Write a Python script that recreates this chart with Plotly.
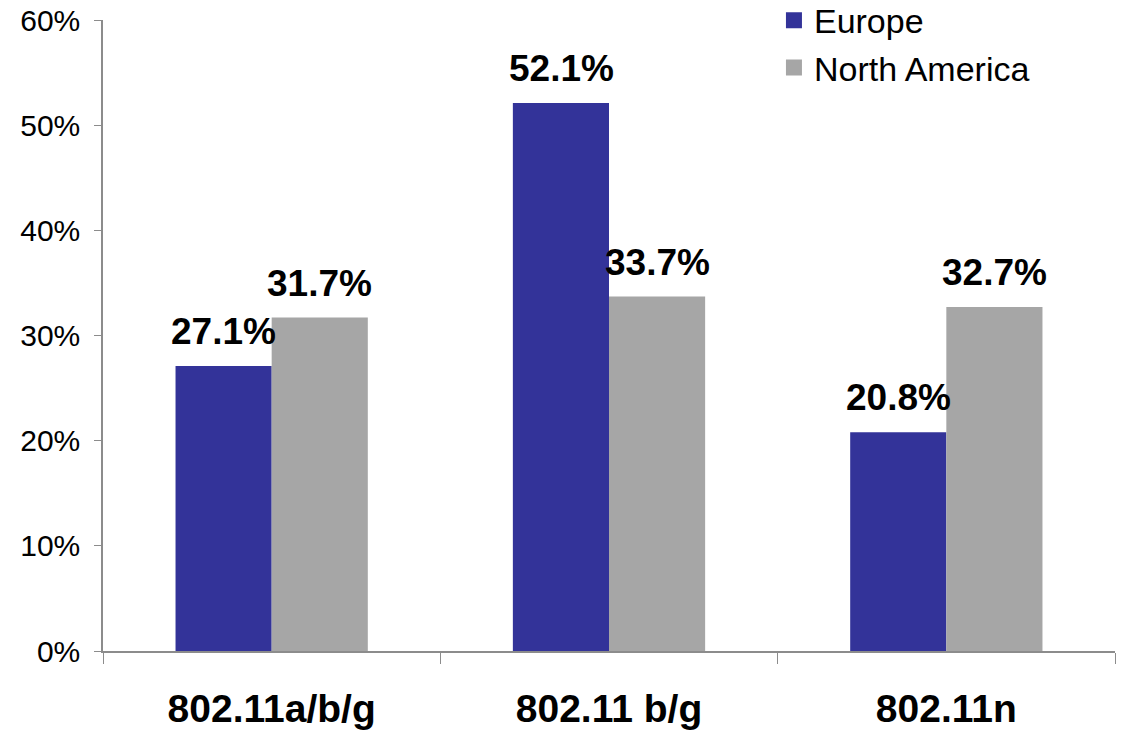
import plotly.graph_objects as go

categories = ["802.11a/b/g", "802.11 b/g", "802.11n"]
series_names = ["Europe", "North America"]
europe = [0.271, 0.521, 0.208]
north_america = [0.317, 0.337, 0.327]
ytick_vals = [0, 0.1, 0.2, 0.3, 0.4, 0.5, 0.6]
colors = ["#333399", "#A6A6A6"]

FONT = "Liberation Sans, Arial, sans-serif"

fig = go.Figure()
for name, vals, col in zip(series_names, [europe, north_america], colors):
    fig.add_trace(go.Bar(name=name, x=categories, y=vals, marker_color=col,
                         marker_line_width=0, showlegend=False))
    # legend-only entry with a larger square swatch
    fig.add_trace(go.Scatter(name=name, x=[None], y=[None], mode="markers",
                             marker=dict(symbol="square", size=19, color=col),
                             showlegend=True))

# data labels, offset to sit over each bar of the group
half_bar_px = 48
for k, vals in enumerate([europe, north_america]):
    sign = -1 if k == 0 else 1
    for c, v in zip(categories, vals):
        fig.add_annotation(x=c, y=v, text=f"<b>{v*100:.1f}%</b>", showarrow=False,
                           xanchor="center", yanchor="bottom",
                           xshift=sign * half_bar_px, yshift=12,
                           font=dict(family=FONT, size=37, color="black"))

fig.update_layout(
    width=1125, height=734,
    margin=dict(l=103, r=10, t=20, b=83, autoexpand=False),
    paper_bgcolor="white", plot_bgcolor="white",
    barmode="group", bargap=0.43, bargroupgap=0,
    font=dict(family=FONT, color="black"),
    showlegend=True,
    legend=dict(x=0.663, y=1.045, xanchor="left", yanchor="top",
                font=dict(family=FONT, size=34, color="black"),
                bgcolor="rgba(0,0,0,0)", tracegroupgap=0, itemwidth=30),
    xaxis=dict(type="category", showline=True, linecolor="#8c8c8c", linewidth=1.5,
               ticks="outside", tickson="boundaries", ticklen=11, tickcolor="#8c8c8c",
               tickfont=dict(family=FONT, size=39, color="black"),
               tickprefix="<b>", ticksuffix="</b>", ticklabelstandoff=22,
               showgrid=False, automargin=False),
    yaxis=dict(range=[0, 0.6], tickvals=ytick_vals, tickformat=".0%",
               showline=True, linecolor="#8c8c8c", linewidth=1.5,
               ticks="outside", ticklen=7, tickcolor="#8c8c8c",
               tickfont=dict(family=FONT, size=30, color="black"),
               ticklabelstandoff=8,
               showgrid=False, zeroline=False, automargin=False),
)

fig.write_html("out.html")
